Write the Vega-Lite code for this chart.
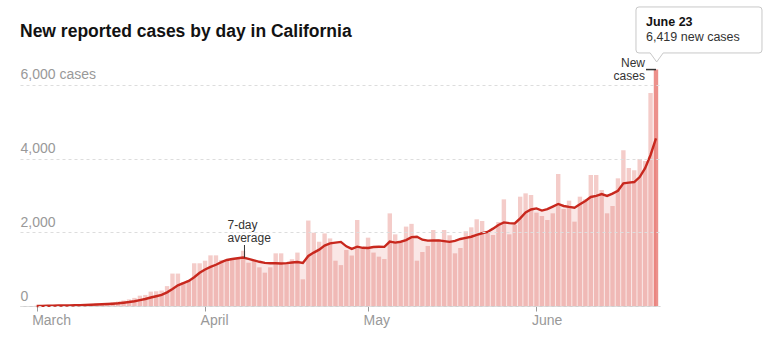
{
  "$schema": "https://vega.github.io/schema/vega-lite/v6.json",
  "width": 640,
  "height": 256,
  "autosize": {"type": "none"},
  "padding": {"left": 20, "top": 50, "right": 120, "bottom": 36},
  "background": "white",
  "title": {
    "text": "New reported cases by day in California",
    "anchor": "start",
    "frame": "group",
    "baseline": "alphabetic",
    "offset": -49.5,
    "font": "Liberation Sans",
    "fontSize": 17.5,
    "fontWeight": "bold",
    "color": "#121212"
  },
  "config": {"view": {"stroke": null}},
  "data": {"values": [
    {"date":"2020-03-01","cases":10,"avg":2},
    {"date":"2020-03-02","cases":5,"avg":4},
    {"date":"2020-03-03","cases":20,"avg":6},
    {"date":"2020-03-04","cases":15,"avg":9},
    {"date":"2020-03-05","cases":25,"avg":12},
    {"date":"2020-03-06","cases":20,"avg":15},
    {"date":"2020-03-07","cases":30,"avg":18},
    {"date":"2020-03-08","cases":25,"avg":20},
    {"date":"2020-03-09","cases":40,"avg":25},
    {"date":"2020-03-10","cases":35,"avg":28},
    {"date":"2020-03-11","cases":50,"avg":33},
    {"date":"2020-03-12","cases":70,"avg":40},
    {"date":"2020-03-13","cases":60,"avg":46},
    {"date":"2020-03-14","cases":80,"avg":53},
    {"date":"2020-03-15","cases":100,"avg":62},
    {"date":"2020-03-16","cases":120,"avg":74},
    {"date":"2020-03-17","cases":150,"avg":90},
    {"date":"2020-03-18","cases":180,"avg":108},
    {"date":"2020-03-19","cases":220,"avg":130},
    {"date":"2020-03-20","cases":280,"avg":160},
    {"date":"2020-03-21","cases":300,"avg":190},
    {"date":"2020-03-22","cases":390,"avg":230},
    {"date":"2020-03-23","cases":400,"avg":265},
    {"date":"2020-03-24","cases":420,"avg":300},
    {"date":"2020-03-25","cases":540,"avg":370},
    {"date":"2020-03-26","cases":880,"avg":460},
    {"date":"2020-03-27","cases":880,"avg":560},
    {"date":"2020-03-28","cases":650,"avg":620},
    {"date":"2020-03-29","cases":700,"avg":680},
    {"date":"2020-03-30","cases":1160,"avg":780},
    {"date":"2020-03-31","cases":1160,"avg":900},
    {"date":"2020-04-01","cases":1230,"avg":990},
    {"date":"2020-04-02","cases":1375,"avg":1060},
    {"date":"2020-04-03","cases":1375,"avg":1120},
    {"date":"2020-04-04","cases":1250,"avg":1190},
    {"date":"2020-04-05","cases":1230,"avg":1250},
    {"date":"2020-04-06","cases":1250,"avg":1275},
    {"date":"2020-04-07","cases":1295,"avg":1295},
    {"date":"2020-04-08","cases":1500,"avg":1315},
    {"date":"2020-04-09","cases":1175,"avg":1280},
    {"date":"2020-04-10","cases":1230,"avg":1240},
    {"date":"2020-04-11","cases":1050,"avg":1200},
    {"date":"2020-04-12","cases":905,"avg":1170},
    {"date":"2020-04-13","cases":1050,"avg":1160},
    {"date":"2020-04-14","cases":1430,"avg":1160},
    {"date":"2020-04-15","cases":1430,"avg":1155},
    {"date":"2020-04-16","cases":1140,"avg":1165},
    {"date":"2020-04-17","cases":1270,"avg":1180},
    {"date":"2020-04-18","cases":1450,"avg":1195},
    {"date":"2020-04-19","cases":725,"avg":1170},
    {"date":"2020-04-20","cases":2320,"avg":1360},
    {"date":"2020-04-21","cases":1990,"avg":1450},
    {"date":"2020-04-22","cases":1745,"avg":1530},
    {"date":"2020-04-23","cases":1970,"avg":1640},
    {"date":"2020-04-24","cases":1835,"avg":1700},
    {"date":"2020-04-25","cases":1230,"avg":1720},
    {"date":"2020-04-26","cases":1110,"avg":1740},
    {"date":"2020-04-27","cases":1520,"avg":1620},
    {"date":"2020-04-28","cases":1370,"avg":1550},
    {"date":"2020-04-29","cases":2335,"avg":1610},
    {"date":"2020-04-30","cases":1565,"avg":1580},
    {"date":"2020-05-01","cases":1855,"avg":1575},
    {"date":"2020-05-02","cases":1450,"avg":1600},
    {"date":"2020-05-03","cases":1340,"avg":1610},
    {"date":"2020-05-04","cases":1275,"avg":1605},
    {"date":"2020-05-05","cases":2515,"avg":1750},
    {"date":"2020-05-06","cases":1945,"avg":1720},
    {"date":"2020-05-07","cases":1720,"avg":1745},
    {"date":"2020-05-08","cases":2155,"avg":1790},
    {"date":"2020-05-09","cases":2230,"avg":1870},
    {"date":"2020-05-10","cases":1230,"avg":1880},
    {"date":"2020-05-11","cases":1466,"avg":1800},
    {"date":"2020-05-12","cases":1630,"avg":1775},
    {"date":"2020-05-13","cases":2064,"avg":1780},
    {"date":"2020-05-14","cases":1810,"avg":1780},
    {"date":"2020-05-15","cases":2064,"avg":1760},
    {"date":"2020-05-16","cases":1920,"avg":1740},
    {"date":"2020-05-17","cases":1430,"avg":1770},
    {"date":"2020-05-18","cases":1575,"avg":1820},
    {"date":"2020-05-19","cases":2028,"avg":1850},
    {"date":"2020-05-20","cases":2136,"avg":1880},
    {"date":"2020-05-21","cases":2354,"avg":1930},
    {"date":"2020-05-22","cases":2308,"avg":1975},
    {"date":"2020-05-23","cases":2028,"avg":2010},
    {"date":"2020-05-24","cases":1928,"avg":2100},
    {"date":"2020-05-25","cases":2281,"avg":2200},
    {"date":"2020-05-26","cases":2896,"avg":2270},
    {"date":"2020-05-27","cases":1946,"avg":2250},
    {"date":"2020-05-28","cases":2200,"avg":2240},
    {"date":"2020-05-29","cases":2968,"avg":2380},
    {"date":"2020-05-30","cases":3058,"avg":2540},
    {"date":"2020-05-31","cases":3014,"avg":2620},
    {"date":"2020-06-01","cases":2534,"avg":2650},
    {"date":"2020-06-02","cases":2443,"avg":2590},
    {"date":"2020-06-03","cases":2335,"avg":2630},
    {"date":"2020-06-04","cases":2516,"avg":2700},
    {"date":"2020-06-05","cases":3585,"avg":2770},
    {"date":"2020-06-06","cases":2634,"avg":2715},
    {"date":"2020-06-07","cases":2860,"avg":2690},
    {"date":"2020-06-08","cases":2290,"avg":2670},
    {"date":"2020-06-09","cases":2968,"avg":2760},
    {"date":"2020-06-10","cases":2896,"avg":2850},
    {"date":"2020-06-11","cases":3557,"avg":2960},
    {"date":"2020-06-12","cases":3557,"avg":2990},
    {"date":"2020-06-13","cases":3150,"avg":3040},
    {"date":"2020-06-14","cases":2516,"avg":2990},
    {"date":"2020-06-15","cases":2715,"avg":3050},
    {"date":"2020-06-16","cases":3466,"avg":3130},
    {"date":"2020-06-17","cases":4226,"avg":3330},
    {"date":"2020-06-18","cases":3746,"avg":3350},
    {"date":"2020-06-19","cases":3684,"avg":3365},
    {"date":"2020-06-20","cases":3990,"avg":3500},
    {"date":"2020-06-21","cases":3937,"avg":3740},
    {"date":"2020-06-22","cases":5780,"avg":4100},
    {"date":"2020-06-23","cases":6419,"avg":4550}
  ]},
  "encoding": {
    "x": {
      "field": "date",
      "type": "temporal",
      "title": null,
      "scale": {
        "type": "utc",
        "padding": 0,
        "domain": [
          {"year": 2020, "month": 2, "date": 26, "hours": 22, "minutes": 20, "utc": true},
          {"year": 2020, "month": 6, "date": 23, "hours": 17, "minutes": 45, "utc": true}
        ]
      },
      "axis": {
        "title": null,
        "values": [
          {"year": 2020, "month": 3, "date": 1, "utc": true},
          {"year": 2020, "month": 4, "date": 1, "utc": true},
          {"year": 2020, "month": 5, "date": 1, "utc": true},
          {"year": 2020, "month": 6, "date": 1, "utc": true}
        ],
        "labelExpr": "utcFormat(datum.value, '%B')",
        "labelFlush": false,
        "labelOverlap": false,
        "grid": false,
        "domainColor": "#d0d0d0",
        "tickColor": "#999999",
        "tickSize": 5,
        "labelAlign": "left",
        "labelOffset": -5,
        "labelPadding": 2,
        "labelBaseline": "top",
        "labelColor": "#999999",
        "labelFont": "Liberation Sans",
        "labelFontSize": 14
      }
    },
    "y": {
      "field": "cases",
      "type": "quantitative",
      "title": null,
      "scale": {"domain": [0, 6950], "nice": false},
      "axis": {
        "title": null,
        "values": [0, 2000, 4000, 6000],
        "domain": false,
        "ticks": false,
        "labelAlign": "left",
        "labelBaseline": "alphabetic",
        "labelPadding": 0,
        "labelOffset": -6,
        "labelFlush": false,
        "labelOverlap": false,
        "labelColor": "#999999",
        "labelFont": "Liberation Sans",
        "labelFontSize": 14,
        "labelExpr": "datum.value === 6000 ? datum.label + ' cases' : datum.label",
        "grid": true,
        "gridColor": "#dddddd",
        "gridDash": [3, 3],
        "zindex": 1
      }
    }
  },
  "layer": [
    {
      "mark": {"type": "area", "color": "#d1281f", "opacity": 0.11},
      "encoding": {
        "y": {"field": "avg", "type": "quantitative", "title": null}
      }
    },
    {
      "mark": {"type": "bar", "size": 4.4},
      "encoding": {
        "color": {
          "condition": {"test": "utcmonth(datum.date) === 5 && utcdate(datum.date) === 23", "value": "#e0463d"},
          "value": "#d1281f"
        },
        "opacity": {
          "condition": {"test": "utcmonth(datum.date) === 5 && utcdate(datum.date) === 23", "value": 0.6},
          "value": 0.24
        }
      }
    },
    {
      "mark": {"type": "line", "color": "#c8281e", "strokeWidth": 2.4},
      "encoding": {
        "y": {"field": "avg", "type": "quantitative", "title": null}
      }
    },
    {
      "data": {"values": [{"date": "2020-04-08T06:00:00Z", "from": 1311, "to": 1656, "label": "7-day\naverage"}]},
      "layer": [
        {
          "mark": {"type": "rule", "color": "#333333", "strokeWidth": 1},
          "encoding": {
            "y": {"field": "from", "type": "quantitative", "title": null},
            "y2": {"field": "to"}
          }
        },
        {
          "mark": {"type": "text", "align": "left", "baseline": "alphabetic", "dx": -17, "dy": -16, "lineBreak": "\n", "lineHeight": 13, "font": "Liberation Sans", "fontSize": 12, "color": "#333333"},
          "encoding": {
            "y": {"field": "to", "type": "quantitative", "title": null},
            "text": {"field": "label"}
          }
        }
      ]
    },
    {
      "data": {"values": [{"date": "2020-06-23", "start": "2020-06-21T04:00:00Z", "cases": 6419, "label": "New\ncases"}]},
      "layer": [
        {
          "mark": {"type": "rule", "color": "#333333", "strokeWidth": 1.5},
          "encoding": {
            "x": {"field": "start", "type": "temporal", "title": null},
            "x2": {"field": "date"}
          }
        },
        {
          "mark": {"type": "text", "align": "right", "baseline": "alphabetic", "dx": -11, "dy": -2.6, "lineBreak": "\n", "lineHeight": 13, "font": "Liberation Sans", "fontSize": 12, "color": "#333333"},
          "encoding": {
            "text": {"field": "label"}
          }
        }
      ]
    },
    {
      "data": {"values": [{"date": "2020-06-23", "cases": 6419, "head": "June 23", "body": "6,419 new cases"}]},
      "layer": [
        {
          "mark": {
            "type": "point",
            "shape": "M-1.7,-6.26H10.3Q10.6,-6.26,10.6,-5.96V-1.96Q10.6,-1.66,10.3,-1.66H0.72L0.07,-0.76L-0.58,-1.66H-1.7Q-2,-1.66,-2,-1.96V-5.96Q-2,-6.26,-1.7,-6.26Z",
            "size": 400,
            "filled": true,
            "fill": "white",
            "stroke": "#c8c8c8",
            "strokeWidth": 1,
            "opacity": 1
          }
        },
        {
          "mark": {"type": "text", "align": "left", "baseline": "alphabetic", "dx": -10, "dy": -43.6, "font": "Liberation Sans", "fontSize": 12.5, "fontWeight": "bold", "color": "#121212"},
          "encoding": {
            "text": {"field": "head"}
          }
        },
        {
          "mark": {"type": "text", "align": "left", "baseline": "alphabetic", "dx": -10, "dy": -28.6, "font": "Liberation Sans", "fontSize": 12.5, "color": "#333333"},
          "encoding": {
            "text": {"field": "body"}
          }
        }
      ]
    }
  ]
}
